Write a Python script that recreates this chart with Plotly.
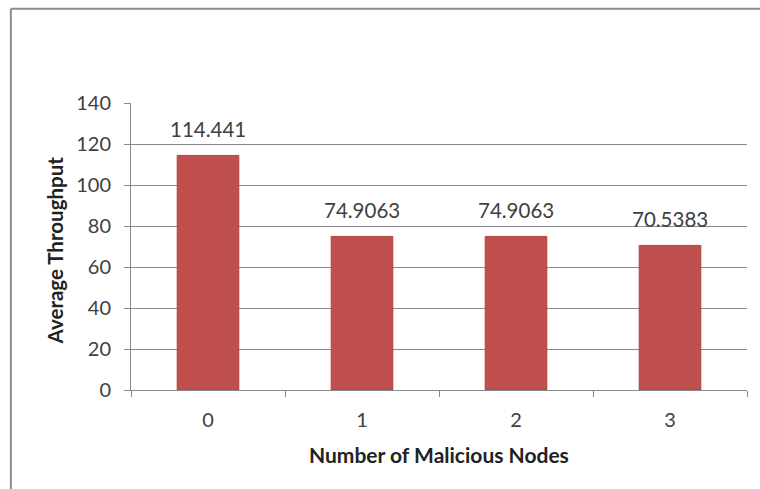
import plotly.graph_objects as go

# Average throughput per number of malicious nodes
nodes = ["0", "1", "2", "3"]
throughput = [114.441, 74.9063, 74.9063, 70.5383]
y_ticks = [0, 20, 40, 60, 80, 100, 120, 140]

FONT = "Lato, 'Open Sans', sans-serif"
TXT = "#404040"
GRID = "#8a8a8a"
BAR = "#C0504D"

fig = go.Figure()
fig.add_trace(go.Bar(
    x=nodes, y=throughput,
    marker=dict(color=BAR, line=dict(color="#b04441", width=1)),
    width=0.4,
    hoverinfo="skip",
))

# value labels above each bar
for n, v in zip(nodes, throughput):
    fig.add_annotation(x=n, y=v, text=f"{v:g}", showarrow=False,
                       yanchor="bottom", yshift=12,
                       font=dict(family=FONT, size=20.5, color=TXT))

# axis titles
fig.add_annotation(x=0.5, y=-0.225, xref="paper", yref="paper",
                   text="<b>Number of Malicious Nodes</b>", showarrow=False,
                   xanchor="center", yanchor="middle",
                   font=dict(family=FONT, size=21, color="#222222"))
fig.add_annotation(x=-0.124, y=0.485, xref="paper", yref="paper",
                   text="<b>Average Throughput</b>", showarrow=False, textangle=-90,
                   xanchor="center", yanchor="middle",
                   font=dict(family=FONT, size=20.5, color="#222222"))

# chart frame (top and left edges)
fig.add_shape(type="line", xref="paper", yref="paper",
              x0=-0.195, x1=1.03, y0=1.328, y1=1.328,
              line=dict(color="#8c8c8c", width=2))
fig.add_shape(type="line", xref="paper", yref="paper",
              x0=-0.195, x1=-0.195, y0=1.328, y1=-0.36,
              line=dict(color="#8c8c8c", width=2))

fig.update_layout(
    width=760, height=489,
    margin=dict(l=131, r=13, t=103, b=99),
    paper_bgcolor="white", plot_bgcolor="white",
    showlegend=False,
    bargap=0.6,
    xaxis=dict(
        type="category", tickson="boundaries",
        ticks="outside", ticklen=6, tickcolor=GRID, tickwidth=1,
        showline=True, linecolor=GRID, linewidth=1,
        showgrid=False, ticklabelstandoff=12,
        tickfont=dict(family=FONT, size=20, color=TXT),
    ),
    yaxis=dict(
        range=[0, 140], tickvals=y_ticks,
        ticks="outside", ticklen=6, tickcolor=GRID, tickwidth=1,
        showline=True, linecolor=GRID, linewidth=1,
        showgrid=True, gridcolor=GRID, gridwidth=1, zeroline=False,
        ticklabelstandoff=9,
        tickfont=dict(family=FONT, size=20, color=TXT),
    ),
)

fig.write_html("out.html")
